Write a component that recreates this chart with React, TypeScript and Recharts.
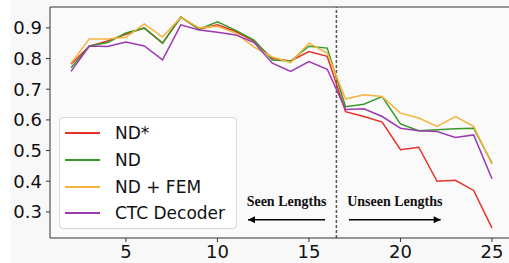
import React from "react";
import {
  LineChart,
  Line,
  XAxis,
  YAxis,
  ReferenceLine,
  ReferenceArea,
} from "recharts";

const lengths = [2, 3, 4, 5, 6, 7, 8, 9, 10, 11, 12, 13, 14, 15, 16, 17, 18, 19, 20, 21, 22, 23, 24, 25];

const ndStar = [0.782, 0.84, 0.857, 0.879, 0.9, 0.85, 0.935, 0.896, 0.91, 0.888, 0.856, 0.8, 0.792, 0.823, 0.807, 0.627, 0.611, 0.593, 0.503, 0.511, 0.4, 0.403, 0.37, 0.248];
const nd = [0.77, 0.841, 0.852, 0.883, 0.899, 0.85, 0.935, 0.896, 0.92, 0.892, 0.86, 0.795, 0.792, 0.84, 0.834, 0.643, 0.651, 0.676, 0.587, 0.565, 0.568, 0.571, 0.573, 0.459];
const ndFem = [0.785, 0.864, 0.864, 0.869, 0.913, 0.87, 0.935, 0.9, 0.905, 0.883, 0.837, 0.805, 0.787, 0.85, 0.818, 0.668, 0.682, 0.676, 0.622, 0.606, 0.579, 0.611, 0.579, 0.456];
const ctc = [0.758, 0.841, 0.839, 0.854, 0.841, 0.796, 0.91, 0.893, 0.886, 0.877, 0.852, 0.785, 0.758, 0.79, 0.765, 0.634, 0.636, 0.611, 0.573, 0.565, 0.562, 0.543, 0.551, 0.408];

const xTicks = [5, 10, 15, 20, 25];
const yTicks = [0.3, 0.4, 0.5, 0.6, 0.7, 0.8, 0.9];

const series = [
  { key: "ndStar", name: "ND*", color: "#e8302a" },
  { key: "nd", name: "ND", color: "#369a28" },
  { key: "ndFem", name: "ND + FEM", color: "#f5b43c" },
  { key: "ctc", name: "CTC Decoder", color: "#9b3ab0" },
];

const data = lengths.map((x, i) => ({
  x,
  ndStar: ndStar[i],
  nd: nd[i],
  ndFem: ndFem[i],
  ctc: ctc[i],
}));

const X_MIN = 0.85;
const X_MAX = 26.15;
const Y_MIN = 0.215;
const Y_MAX = 0.968;

const tickFont = { fontFamily: "DejaVu Sans", fontSize: 18, fill: "#111" };

function Arrow(props: any) {
  const { x1, y1, x2, y2, text, head } = props;
  const hx = head === "left" ? x1 : x2;
  const dir = head === "left" ? 1 : -1;
  const mid = (x1 + x2) / 2;
  return (
    <g>
      <line x1={x1} y1={y1} x2={x2} y2={y2} stroke="#000" strokeWidth={1.5} />
      <polygon
        points={`${hx},${y1} ${hx + dir * 7},${y1 - 3.5} ${hx + dir * 7},${y1 + 3.5}`}
        fill="#000"
      />
      <text
        x={mid}
        y={y1 - 18}
        textAnchor="middle"
        dominantBaseline="central"
        fontFamily="Liberation Serif"
        fontWeight="bold"
        fontSize={14}
        fill="#111"
      >
        {text}
      </text>
    </g>
  );
}

function LegendBox() {
  return (
    <div
      style={{
        position: "absolute",
        left: 59,
        top: 117,
        width: 178,
        height: 112,
        border: "1px solid #d6d6d6",
        borderRadius: 4,
        background: "rgba(255,255,255,0.85)",
        boxSizing: "border-box",
        paddingTop: 2,
      }}
    >
      {series.map((s) => (
        <div
          key={s.key}
          style={{ display: "flex", alignItems: "center", height: 26.7 }}
        >
          <div
            style={{
              width: 35,
              height: 2,
              background: s.color,
              marginLeft: 5,
              marginRight: 15,
            }}
          />
          <span
            style={{
              fontFamily: "DejaVu Sans",
              fontSize: 17,
              lineHeight: "20px",
              color: "#111",
              whiteSpace: "nowrap",
            }}
          >
            {s.name}
          </span>
        </div>
      ))}
    </div>
  );
}

export default function App() {
  return (
    <div
      style={{
        position: "absolute",
        left: 0,
        top: 0,
        width: 509,
        height: 263,
        overflow: "hidden",
        background: "#fff",
      }}
    >
      <div
        style={{
          position: "absolute",
          left: 10,
          top: 0,
          width: 499,
          height: 263,
          background: "#f8f8f8",
        }}
      />
      <div style={{ position: "absolute", left: 0, top: 0 }}>
        <LineChart
          width={520}
          height={263}
          data={data}
          margin={{ top: 7, right: 7, left: 0, bottom: 0 }}
        >
          <ReferenceArea
            x1={X_MIN}
            x2={X_MAX}
            y1={Y_MIN}
            y2={Y_MAX}
            fill="#fafafa"
            fillOpacity={1}
            stroke="none"
          />
          <XAxis
            dataKey="x"
            type="number"
            domain={[X_MIN, X_MAX]}
            ticks={xTicks}
            interval={0}
            allowDataOverflow
            height={25}
            tick={tickFont}
            tickSize={4}
            tickMargin={3}
            stroke="#333"
            tickLine={{ stroke: "#333" }}
          />
          <YAxis
            type="number"
            domain={[Y_MIN, Y_MAX]}
            ticks={yTicks}
            interval={0}
            allowDataOverflow
            width={50}
            tick={tickFont}
            tickSize={4}
            tickMargin={4}
            tickFormatter={(v: number) => v.toFixed(1)}
            stroke="#333"
            tickLine={{ stroke: "#333" }}
          />
          <ReferenceLine y={Y_MAX} stroke="#333" strokeWidth={1} />
          <ReferenceLine
            x={16.5}
            stroke="#555"
            strokeWidth={1.5}
            strokeDasharray="3 2"
          />
          {series.map((s) => (
            <Line
              key={s.key}
              dataKey={s.key}
              name={s.name}
              stroke={s.color}
              strokeWidth={1.5}
              dot={false}
              type="linear"
              isAnimationActive={false}
            />
          ))}
          <ReferenceLine
            segment={[
              { x: 11.67, y: 0.2746 },
              { x: 15.88, y: 0.2746 },
            ]}
            shape={(p: any) => <Arrow {...p} text="Seen Lengths" head="left" />}
          />
          <ReferenceLine
            segment={[
              { x: 17.19, y: 0.2746 },
              { x: 22.2, y: 0.2746 },
            ]}
            shape={(p: any) => <Arrow {...p} text="Unseen Lengths" head="right" />}
          />
        </LineChart>
      </div>
      <LegendBox />
    </div>
  );
}
